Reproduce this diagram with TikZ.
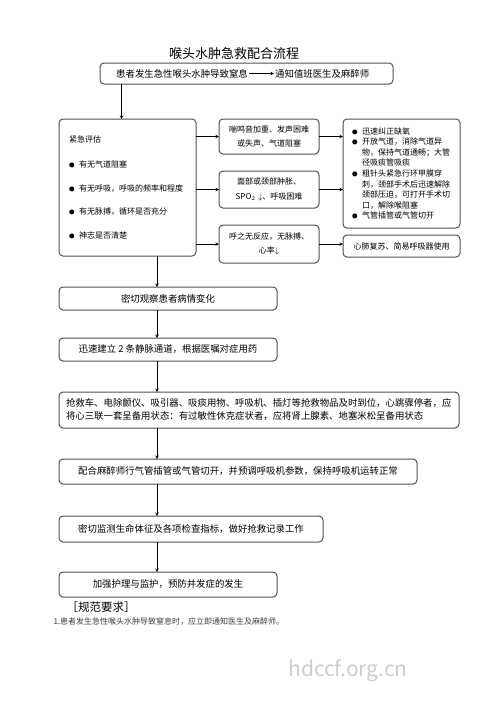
\documentclass[tikz,border=0pt]{standalone}
\usepackage{fontspec}
\setmainfont{Noto Sans CJK SC}
\usepackage{tikz}
\usetikzlibrary{positioning,shapes,arrows,calc}
\definecolor{boxgray}{RGB}{80,80,80}
\definecolor{markgray}{RGB}{205,205,205}
\newcommand{\dotmark}{\makebox[10pt][l]{\fontsize{5.5}{5.5}\selectfont ●}}

\begin{document}
\begin{tikzpicture}[x=1pt, y=-1pt,
    box/.style={rectangle, rounded corners=4pt, draw=boxgray, line width=1pt, align=center, inner sep=0pt, outer sep=0pt, anchor=north west},
    small/.style={font=\fontsize{8}{14.5}\selectfont},
    main/.style={font=\fontsize{9.4}{13}\selectfont},
    arrow/.style={->,>=stealth,semithick}
]
\useasboundingbox (0,0) rectangle (500,707);

\node[font=\fontsize{13}{15}\selectfont] (title) at (234,54) {喉头水肿急救配合流程};

% first report
\node[box, minimum width=293pt, minimum height=21pt] (top) at (100,63) {};
\node[main, anchor=west, inner sep=1pt] (patient) at (115,73.5) {患者发生急性喉头水肿导致窒息};
\node[main, anchor=west, inner sep=1pt] (doctor) at (274,73.5) {通知值班医生及麻醉师};
\draw[arrow] (patient) -- (doctor);

% assessment and first measures
\node[box, small, minimum width=137pt, minimum height=137pt, text width=117pt, align=left] (assess) at (59,119) {紧急评估\\[10.5pt]
  \dotmark 有无气道阻塞\\[9pt]
  \dotmark 有无呼吸，呼吸的频率和程度\\[9pt]
  \dotmark 有无脉搏，循环是否充分\\[9pt]
  \dotmark 神志是否清楚\\[4pt]};
\coordinate (entry) at ([xshift=-6pt]assess.north);
\draw[arrow] (top.south -| entry) -- (entry);

\node[box, small, minimum width=100pt, minimum height=35pt] (stridor) at (219,119) {喘鸣音加重、发声困难\\或失声、气道阻塞};
\node[box, small, minimum width=100pt, minimum height=37pt, below=17pt of stridor.south west, anchor=north west] (swelling) {面部或颈部肿胀、\\SPO$_2\downarrow$、呼吸困难};
\node[box, small, minimum width=100pt, minimum height=38pt, below=17pt of swelling.south west, anchor=north west] (arrest) {呼之无反应，无脉搏、\\心率$\downarrow$};

\node[box, font=\fontsize{8}{10.6}\selectfont, minimum width=117pt, minimum height=109pt, text width=99pt, align=left] (relief) at (343,119) {%
  \dotmark 迅速纠正缺氧\\
  \dotmark 开放气道，消除气道异\\
  \hspace*{10pt}物，保持气道通畅；大管\\
  \hspace*{10pt}径吸痰管吸痰\\
  \dotmark 粗针头紧急行环甲膜穿\\
  \hspace*{10pt}刺，颈部手术后迅速解除\\
  \hspace*{10pt}颈部压迫，可打开手术切\\
  \hspace*{10pt}口，解除喉阻塞\\
  \dotmark 气管插管或气管切开};
\node[box, small, minimum width=117pt, minimum height=22pt, below=7pt of relief.south west, anchor=north west] (cpr) {心肺复苏、简易呼吸器使用};

\draw[arrow] (assess.east |- stridor.west) -- (stridor.west);
\draw[arrow] (assess.east |- swelling.west) -- (swelling.west);
\draw[arrow] (assess.east |- arrest.west) -- (arrest.west);
\draw[arrow] (stridor.east) -- (stridor.east -| relief.west);
\draw[arrow] (swelling.east) -- (swelling.east -| relief.west);
\draw[arrow] (arrest.east) -- (arrest.east -| cpr.west);

% main column
\coordinate (spine) at (157,0);
\node[box, main, minimum width=218pt, minimum height=23pt, below=31pt of assess.south west, anchor=north west] (observe) {密切观察患者病情变化};
\node[box, main, minimum width=218pt, minimum height=23pt, below=28pt of observe.south west, anchor=north west] (veins) {迅速建立 2 条静脉通道，根据医嘱对症用药};
\node[box, main, minimum width=400pt, minimum height=36pt, text width=386pt, align=left, below=31pt of veins.south west, anchor=north west] (equip) {抢救车、电除颤仪、吸引器、吸痰用物、呼吸机、插灯等抢救物品及时到位，心跳骤停者，应\\将心三联一套呈备用状态：有过敏性休克症状者，应将肾上腺素、地塞米松呈备用状态};
\node[box, main, minimum width=358pt, minimum height=25pt, below=31pt of equip.south west, anchor=north west] (intubate) {配合麻醉师行气管插管或气管切开，并预调呼吸机参数，保持呼吸机运转正常};
\node[box, main, minimum width=264pt, minimum height=26pt, below=32pt of intubate.south west, anchor=north west] (monitor) {密切监测生命体征及各项检查指标，做好抢救记录工作};
\node[box, main, minimum width=218pt, minimum height=25pt, below=30pt of monitor.south west, anchor=north west] (nursing) {加强护理与监护，预防并发症的发生};

\foreach \a/\b in {assess/observe, observe/veins, veins/equip, equip/intubate, intubate/monitor, monitor/nursing}
  \draw[arrow] (\a.south -| spine) -- (\b.north -| spine);

% requirements
\node[anchor=west, font=\fontsize{11.5}{13}\selectfont] (rules) at (63,607) {［规范要求］};
\node[anchor=west, font=\fontsize{8}{10}\selectfont, text=black!75] (note) at (50,622) {1.患者发生急性喉头水肿导致窒息时，应立即通知医生及麻醉师。};
\node[font=\fontsize{21}{24}\selectfont, text=markgray] (mark) at (348,671) {hdccf.org.cn};
\end{tikzpicture}
\end{document}
